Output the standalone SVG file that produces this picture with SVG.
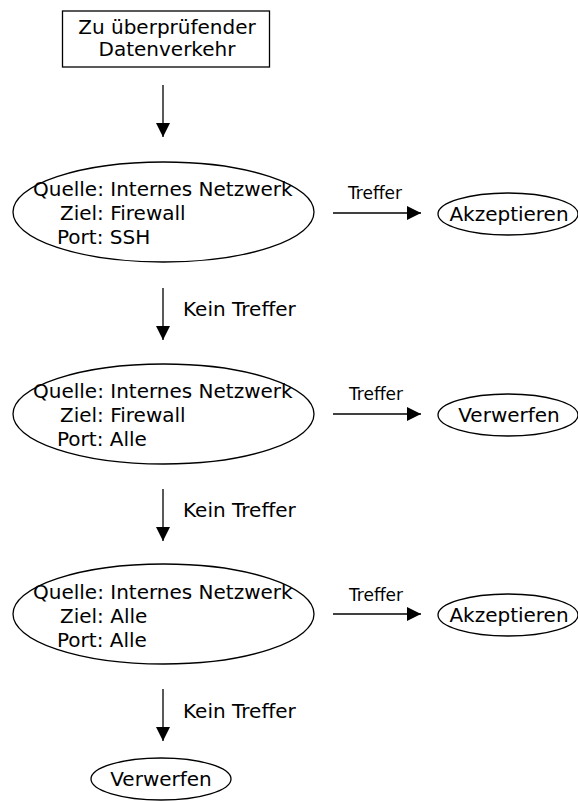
<svg xmlns="http://www.w3.org/2000/svg" width="578" height="801" viewBox="0 0 578 801">
  <style>
    .shape { fill: #fff; stroke: #000; stroke-width: 1.3; }
    .edge { fill: none; stroke: #000; stroke-width: 1.3; }
    text { font-family: "DejaVu Sans", "Liberation Sans", sans-serif; fill: #000; }
    .lbl { font-size: 20px; }
    .rule { font-size: 20px; }
    .small { font-size: 17px; }
    .mid { font-size: 20px; }
  </style>
  <defs>
    <marker id="ah" viewBox="0 0 10 10" refX="10" refY="5" markerWidth="14" markerHeight="14" markerUnits="userSpaceOnUse" orient="auto">
      <path d="M0,0 L10,5 L0,10 Z" fill="#000"/>
    </marker>
  </defs>
  <rect width="578" height="801" fill="#fff"/>

  <g id="start">
    <rect class="shape" x="62.5" y="11" width="207" height="56"/>
    <text class="lbl" x="167" y="34" text-anchor="middle">Zu überprüfender</text>
    <text class="lbl" x="167" y="56" text-anchor="middle">Datenverkehr</text>
  </g>

  <g id="rule1">
    <ellipse class="shape" cx="163.5" cy="212" rx="150.5" ry="50"/>
    <text class="rule" x="33" y="196">Quelle: Internes Netzwerk</text>
    <text class="rule" x="60" y="220">Ziel: Firewall</text>
    <text class="rule" x="57" y="244">Port: SSH</text>
  </g>
  <g id="accept1">
    <ellipse class="shape" cx="508" cy="214" rx="70" ry="21"/>
    <text class="lbl" x="509" y="221" text-anchor="middle">Akzeptieren</text>
  </g>

  <g id="rule2">
    <ellipse class="shape" cx="163.5" cy="414" rx="150.5" ry="50"/>
    <text class="rule" x="33" y="398">Quelle: Internes Netzwerk</text>
    <text class="rule" x="60" y="422">Ziel: Firewall</text>
    <text class="rule" x="57" y="446">Port: Alle</text>
  </g>
  <g id="drop1">
    <ellipse class="shape" cx="508" cy="415" rx="70" ry="21"/>
    <text class="lbl" x="509" y="422" text-anchor="middle">Verwerfen</text>
  </g>

  <g id="rule3">
    <ellipse class="shape" cx="163.5" cy="614" rx="150.5" ry="50"/>
    <text class="rule" x="33" y="599">Quelle: Internes Netzwerk</text>
    <text class="rule" x="60" y="623">Ziel: Alle</text>
    <text class="rule" x="57" y="647">Port: Alle</text>
  </g>
  <g id="accept2">
    <ellipse class="shape" cx="508" cy="615" rx="70" ry="21"/>
    <text class="lbl" x="509" y="622" text-anchor="middle">Akzeptieren</text>
  </g>

  <g id="drop2">
    <ellipse class="shape" cx="161" cy="779" rx="70" ry="21"/>
    <text class="lbl" x="161" y="786" text-anchor="middle">Verwerfen</text>
  </g>

  <g id="connectors">
    <line class="edge" x1="163" y1="85" x2="163" y2="137" marker-end="url(#ah)"/>
    <line class="edge" x1="163" y1="288" x2="163" y2="340" marker-end="url(#ah)"/>
    <line class="edge" x1="163" y1="489" x2="163" y2="541" marker-end="url(#ah)"/>
    <line class="edge" x1="163" y1="689" x2="163" y2="741" marker-end="url(#ah)"/>
    <line class="edge" x1="333" y1="213" x2="421" y2="213" marker-end="url(#ah)"/>
    <line class="edge" x1="333" y1="414" x2="421" y2="414" marker-end="url(#ah)"/>
    <line class="edge" x1="333" y1="614" x2="421" y2="614" marker-end="url(#ah)"/>
    <text class="small" x="375" y="199" text-anchor="middle">Treffer</text>
    <text class="small" x="376" y="400" text-anchor="middle">Treffer</text>
    <text class="small" x="376" y="601" text-anchor="middle">Treffer</text>
    <text class="mid" x="183" y="316">Kein Treffer</text>
    <text class="mid" x="183" y="517">Kein Treffer</text>
    <text class="mid" x="183" y="718">Kein Treffer</text>
  </g>
</svg>
